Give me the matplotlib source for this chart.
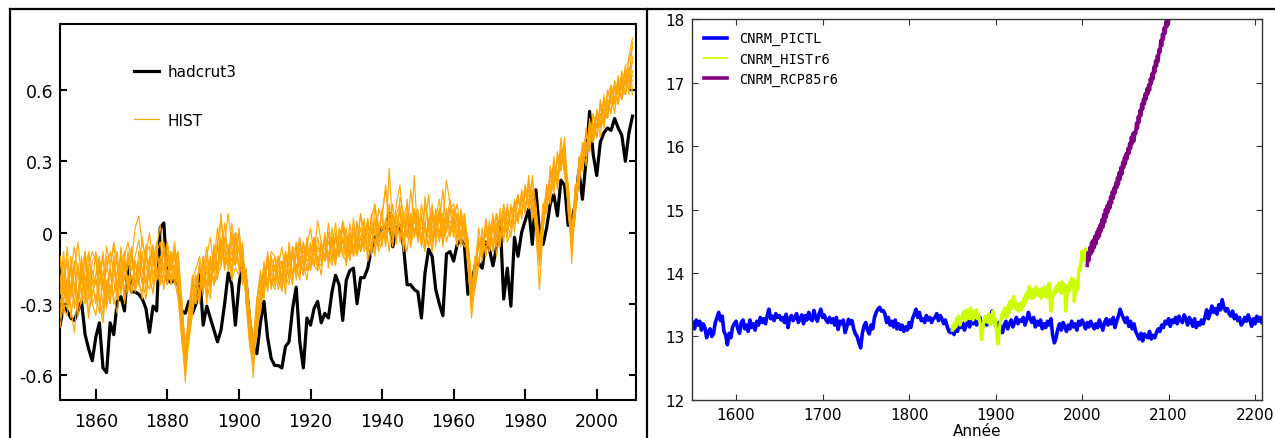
import matplotlib
matplotlib.use('Agg')
import matplotlib.pyplot as plt
from matplotlib.lines import Line2D
import numpy as np

# ---------------------------------------------------------------
# Left panel: observed hadcrut3 anomalies vs. HIST ensemble members
# ---------------------------------------------------------------
years_obs = np.arange(1850, 2011)

hadcrut3 = [
    -0.39, -0.31, -0.33, -0.36, -0.37, -0.33, -0.29, -0.43, -0.49, -0.54,
    -0.44, -0.38, -0.57, -0.59, -0.38, -0.43, -0.29, -0.27, -0.33, -0.14,
    -0.25, -0.25, -0.26, -0.28, -0.32, -0.42, -0.31, -0.33, 0.02, 0.04,
    -0.20, -0.21, -0.20, -0.22, -0.33, -0.34, -0.29, -0.34, -0.30, -0.17,
    -0.39, -0.31, -0.36, -0.41, -0.46, -0.41, -0.30, -0.17, -0.22, -0.39,
    -0.22, -0.13, -0.21, -0.37, -0.48, -0.51, -0.38, -0.29, -0.44, -0.53,
    -0.56, -0.56, -0.57, -0.48, -0.46, -0.32, -0.23, -0.46, -0.57, -0.36,
    -0.39, -0.32, -0.29, -0.38, -0.34, -0.36, -0.25, -0.18, -0.22, -0.37,
    -0.20, -0.16, -0.15, -0.30, -0.19, -0.19, -0.15, -0.07, -0.02, -0.01,
    0.02, 0.02, 0.08, -0.06, 0.02, 0.03, -0.06, -0.22, -0.22, -0.24,
    -0.25, -0.36, -0.17, -0.07, -0.10, -0.24, -0.30, -0.35, -0.09, -0.08,
    -0.12, -0.05, -0.03, -0.05, -0.26, -0.22, -0.14, -0.13, -0.15, -0.04,
    -0.07, -0.14, -0.06, 0.05, -0.28, -0.15, -0.31, -0.02, -0.10, 0.00,
    0.05, 0.10, -0.05, 0.18, 0.00, -0.05, 0.02, 0.12, 0.16, 0.07,
    0.22, 0.20, 0.03, 0.05, 0.12, 0.26, 0.14, 0.30, 0.51, 0.33,
    0.24, 0.38, 0.42, 0.44, 0.43, 0.48, 0.44, 0.41, 0.30, 0.42,
    0.49]

hist_r1 = [
    -0.10, -0.18, -0.28, -0.14, -0.22, -0.30, -0.16, -0.08, -0.20, -0.26,
    -0.18, -0.12, -0.24, -0.30, -0.14, -0.06, -0.15, -0.22, -0.10, -0.04,
    -0.12, 0.02, 0.07, -0.05, -0.10, 0.00, -0.14, -0.06, 0.03, -0.10,
    -0.04, -0.16, -0.08, -0.22, -0.28, -0.55, -0.34, -0.20, -0.26, -0.14,
    -0.22, -0.10, -0.02, -0.16, -0.04, 0.06, -0.08, -0.14, 0.00, -0.12,
    0.02, -0.14, -0.22, -0.32, -0.45, -0.28, -0.18, -0.24, -0.10, -0.16,
    -0.22, -0.10, -0.14, -0.26, -0.04, -0.18, -0.10, -0.02, -0.12, -0.20,
    -0.08, -0.02, -0.16, -0.06, -0.12, 0.04, -0.08, -0.14, -0.02, 0.04,
    -0.06, -0.12, 0.02, -0.04, 0.08, 0.00, -0.08, 0.06, 0.12, 0.00,
    0.08, 0.18, 0.06, -0.04, 0.12, 0.20, 0.02, 0.08, -0.06, 0.10,
    0.04, -0.06, 0.12, 0.02, -0.08, 0.06, 0.14, 0.00, 0.10, -0.02,
    0.06, 0.12, -0.02, 0.08, -0.06, -0.28, -0.14, 0.02, -0.08, 0.06,
    -0.04, 0.08, -0.10, 0.02, 0.12, 0.04, -0.02, 0.10, 0.16, 0.06,
    0.20, 0.10, 0.22, 0.12, -0.12, 0.00, 0.20, 0.12, 0.30, 0.18,
    0.36, 0.24, 0.12, 0.00, 0.20, 0.18, 0.36, 0.28, 0.46, 0.38,
    0.50, 0.40, 0.56, 0.48, 0.60, 0.50, 0.64, 0.56, 0.68, 0.58,
    0.74]

hist_r2 = [
    -0.36, -0.28, -0.20, -0.32, -0.42, -0.24, -0.30, -0.18, -0.34, -0.26,
    -0.20, -0.30, -0.38, -0.22, -0.16, -0.28, -0.34, -0.14, -0.24, -0.18,
    -0.26, -0.18, -0.12, -0.20, -0.28, -0.14, -0.08, -0.20, -0.16, -0.06,
    -0.18, -0.08, -0.22, -0.14, -0.44, -0.60, -0.46, -0.34, -0.24, -0.30,
    -0.10, -0.22, -0.28, -0.06, -0.18, -0.14, 0.04, -0.10, -0.20, -0.02,
    -0.16, -0.04, -0.28, -0.46, -0.54, -0.40, -0.34, -0.20, -0.10, -0.24,
    -0.14, -0.24, -0.18, -0.08, -0.16, -0.22, -0.04, -0.10, -0.18, -0.06,
    0.02, -0.10, 0.05, -0.04, -0.12, 0.00, -0.06, 0.04, -0.10, -0.02,
    -0.14, -0.04, 0.00, -0.10, -0.02, 0.04, -0.12, -0.06, 0.06, -0.08,
    -0.04, 0.04, -0.08, 0.08, 0.00, 0.10, -0.02, -0.08, 0.06, 0.00,
    0.08, -0.04, 0.02, -0.06, 0.10, 0.00, 0.06, -0.04, 0.04, 0.14,
    0.02, -0.06, 0.08, -0.02, -0.04, -0.20, -0.24, -0.12, -0.02, -0.10,
    0.04, -0.08, 0.02, -0.06, 0.08, -0.04, 0.00, 0.12, 0.04, 0.16,
    0.08, 0.22, 0.10, 0.04, -0.06, 0.12, 0.08, 0.26, 0.16, 0.32,
    0.26, 0.38, 0.20, -0.02, 0.06, 0.32, 0.26, 0.42, 0.34, 0.46,
    0.40, 0.54, 0.46, 0.56, 0.50, 0.62, 0.54, 0.66, 0.58, 0.70,
    0.60]

hist_r3 = [
    -0.22, -0.08, -0.26, -0.16, -0.06, -0.18, -0.24, -0.30, -0.14, -0.08,
    -0.12, -0.22, -0.08, -0.26, -0.16, -0.20, -0.28, -0.06, -0.20, -0.14,
    -0.06, -0.22, -0.16, -0.02, -0.14, -0.20, -0.10, -0.16, -0.22, -0.04,
    -0.20, -0.10, -0.16, -0.24, -0.40, -0.50, -0.32, -0.18, -0.30, -0.12,
    -0.16, -0.06, -0.20, -0.12, 0.02, -0.10, -0.04, 0.08, -0.06, -0.14,
    0.00, -0.12, -0.18, -0.38, -0.52, -0.30, -0.16, -0.26, -0.08, -0.20,
    -0.24, -0.14, -0.06, -0.18, -0.22, -0.06, -0.18, -0.04, -0.14, -0.02,
    -0.16, -0.06, -0.10, -0.18, -0.02, -0.12, 0.02, -0.10, -0.04, -0.08,
    0.02, -0.10, -0.06, 0.04, -0.08, -0.04, 0.06, -0.04, -0.10, 0.04,
    0.06, -0.06, 0.12, 0.00, 0.08, -0.04, 0.06, 0.12, -0.06, 0.02,
    -0.02, 0.08, -0.06, 0.06, -0.04, 0.02, 0.10, -0.06, 0.08, 0.00,
    0.10, 0.04, -0.06, 0.06, -0.14, -0.30, -0.18, -0.04, -0.10, 0.00,
    -0.06, 0.02, 0.08, -0.02, 0.06, 0.10, 0.02, 0.04, 0.14, 0.08,
    0.16, 0.20, 0.06, 0.08, -0.10, 0.10, 0.18, 0.14, 0.24, 0.30,
    0.34, 0.28, 0.16, -0.06, 0.16, 0.28, 0.36, 0.40, 0.38, 0.50,
    0.44, 0.52, 0.50, 0.58, 0.62, 0.54, 0.64, 0.60, 0.70, 0.72,
    0.78]

hist_r4 = [
    -0.10, -0.26, -0.06, -0.28, -0.16, -0.04, -0.20, -0.24, -0.10, -0.22,
    -0.08, -0.16, -0.24, -0.06, -0.14, -0.04, -0.12, -0.22, -0.14, -0.20,
    -0.24, -0.12, -0.20, -0.28, -0.10, -0.18, -0.26, -0.10, -0.16, -0.22,
    -0.12, -0.20, -0.06, -0.14, -0.30, -0.48, -0.44, -0.30, -0.18, -0.28,
    -0.18, -0.26, -0.14, -0.22, -0.14, -0.02, -0.12, -0.06, -0.16, 0.00,
    -0.08, -0.16, -0.26, -0.44, -0.48, -0.38, -0.26, -0.16, -0.24, -0.10,
    -0.16, -0.20, -0.24, -0.12, -0.10, -0.18, -0.14, -0.20, -0.04, -0.12,
    -0.10, -0.14, -0.16, -0.04, -0.12, -0.08, -0.14, -0.02, -0.10, 0.02,
    -0.08, 0.00, -0.10, -0.06, 0.02, -0.08, -0.04, 0.04, 0.00, -0.06,
    0.00, -0.04, 0.08, 0.06, -0.02, 0.04, -0.08, 0.06, 0.02, 0.10,
    0.00, -0.02, -0.08, 0.04, 0.08, -0.02, 0.00, 0.08, -0.04, 0.02,
    0.00, 0.08, -0.02, -0.06, -0.02, -0.26, -0.12, -0.06, -0.02, -0.08,
    0.00, 0.04, -0.06, 0.06, 0.00, 0.02, 0.10, 0.04, 0.06, 0.16,
    0.18, 0.12, 0.18, 0.02, -0.08, 0.08, 0.10, 0.24, 0.28, 0.20,
    0.32, 0.36, 0.10, -0.08, 0.08, 0.22, 0.32, 0.30, 0.44, 0.38,
    0.46, 0.50, 0.44, 0.54, 0.58, 0.60, 0.54, 0.64, 0.66, 0.60,
    0.68]

hist_r5 = [
    -0.26, -0.12, -0.32, -0.22, -0.30, -0.16, -0.22, -0.10, -0.28, -0.20,
    -0.30, -0.14, -0.20, -0.32, -0.22, -0.26, -0.16, -0.24, -0.12, -0.22,
    -0.18, -0.24, -0.08, -0.16, -0.22, -0.12, -0.06, -0.18, -0.10, -0.14,
    -0.10, -0.22, -0.14, -0.18, -0.38, -0.63, -0.40, -0.30, -0.20, -0.16,
    -0.24, -0.16, -0.22, -0.08, -0.14, -0.06, -0.14, -0.12, 0.04, -0.08,
    -0.14, -0.18, -0.20, -0.40, -0.61, -0.34, -0.22, -0.18, -0.20, -0.12,
    -0.20, -0.12, -0.18, -0.20, -0.12, -0.08, -0.06, -0.14, -0.16, -0.06,
    -0.12, -0.14, -0.06, -0.10, -0.04, -0.12, -0.02, -0.08, -0.10, -0.02,
    -0.10, -0.02, -0.08, -0.02, -0.08, 0.02, 0.00, -0.08, 0.02, 0.04,
    -0.06, 0.06, 0.00, -0.06, 0.08, -0.02, 0.06, -0.02, 0.08, -0.02,
    0.04, 0.06, -0.06, 0.02, -0.08, 0.08, -0.02, 0.06, 0.00, 0.10,
    -0.02, 0.04, 0.06, -0.02, -0.10, -0.36, -0.22, -0.14, -0.04, -0.06,
    -0.08, -0.02, 0.04, -0.02, 0.08, 0.00, 0.08, 0.12, 0.06, 0.12,
    0.10, 0.18, 0.14, 0.00, -0.24, 0.02, 0.12, 0.16, 0.26, 0.24,
    0.30, 0.28, 0.20, -0.13, 0.14, 0.20, 0.32, 0.36, 0.36, 0.44,
    0.48, 0.44, 0.52, 0.48, 0.56, 0.54, 0.62, 0.56, 0.62, 0.66,
    0.64]

hist_r6 = [
    -0.34, -0.20, -0.12, -0.36, -0.24, -0.30, -0.12, -0.28, -0.20, -0.30,
    -0.26, -0.34, -0.16, -0.22, -0.30, -0.10, -0.24, -0.16, -0.28, -0.10,
    -0.24, -0.12, -0.22, -0.10, -0.20, -0.24, -0.12, -0.04, -0.22, -0.18,
    -0.22, -0.10, -0.18, -0.08, -0.34, -0.45, -0.42, -0.22, -0.18, -0.26,
    -0.14, -0.22, -0.12, -0.22, -0.06, -0.14, -0.04, -0.16, -0.08, -0.14,
    -0.06, -0.22, -0.16, -0.36, -0.50, -0.44, -0.24, -0.14, -0.22, -0.18,
    -0.10, -0.20, -0.12, -0.16, -0.18, -0.10, -0.16, -0.06, -0.14, -0.16,
    -0.14, -0.04, -0.12, -0.12, -0.02, -0.10, -0.04, -0.12, 0.00, -0.10,
    -0.04, -0.08, 0.00, -0.08, -0.02, -0.06, 0.02, 0.02, -0.06, 0.02,
    0.02, 0.00, 0.06, -0.02, 0.04, 0.08, -0.04, 0.06, -0.02, 0.08,
    -0.04, 0.06, 0.00, -0.06, 0.06, -0.02, 0.08, -0.02, 0.08, 0.04,
    0.06, -0.02, 0.04, 0.04, -0.08, -0.24, -0.10, -0.12, -0.04, 0.00,
    0.02, -0.06, 0.04, 0.00, -0.02, 0.06, 0.02, 0.10, 0.14, 0.08,
    0.16, 0.20, 0.10, 0.08, -0.04, 0.02, 0.16, 0.22, 0.20, 0.30,
    0.28, 0.34, 0.12, 0.02, 0.10, 0.28, 0.36, 0.36, 0.42, 0.42,
    0.50, 0.48, 0.54, 0.52, 0.58, 0.62, 0.58, 0.64, 0.62, 0.68,
    0.72]

hist_r7 = [
    -0.40, -0.28, -0.20, -0.24, -0.14, -0.32, -0.18, -0.24, -0.36, -0.16,
    -0.22, -0.14, -0.32, -0.10, -0.26, -0.18, -0.08, -0.26, -0.14, -0.24,
    -0.10, -0.22, -0.14, -0.22, -0.08, -0.06, -0.22, -0.10, -0.12, -0.24,
    -0.08, -0.16, -0.10, -0.26, -0.42, -0.56, -0.34, -0.26, -0.22, -0.14,
    -0.26, -0.14, -0.20, -0.06, -0.16, -0.04, -0.16, -0.06, -0.16, -0.02,
    -0.14, -0.08, -0.30, -0.40, -0.46, -0.32, -0.32, -0.20, -0.14, -0.22,
    -0.14, -0.10, -0.20, -0.12, -0.08, -0.18, -0.08, -0.14, -0.08, -0.10,
    -0.06, -0.12, -0.14, -0.04, -0.10, -0.04, -0.02, -0.08, -0.08, -0.04,
    -0.08, -0.03, -0.09, 0.00, -0.07, -0.01, -0.07, 0.00, 0.04, -0.06,
    0.03, -0.02, 0.06, 0.04, -0.01, 0.05, 0.04, -0.02, 0.04, 0.00,
    0.04, -0.01, 0.03, -0.02, 0.02, 0.06, -0.04, 0.05, 0.06, 0.02,
    0.04, 0.06, -0.02, 0.02, -0.12, -0.30, -0.14, -0.06, -0.06, -0.04,
    -0.05, 0.02, -0.04, 0.07, 0.01, 0.05, 0.04, 0.07, 0.08, 0.14,
    0.12, 0.14, 0.16, 0.10, -0.12, 0.08, 0.12, 0.20, 0.20, 0.26,
    0.30, 0.32, 0.14, 0.00, 0.12, 0.26, 0.28, 0.38, 0.36, 0.44,
    0.40, 0.50, 0.48, 0.52, 0.52, 0.57, 0.56, 0.62, 0.58, 0.64,
    0.58]

hist_r8 = [
    -0.12, -0.22, -0.30, -0.10, -0.24, -0.13, -0.27, -0.16, -0.08, -0.22,
    -0.18, -0.10, -0.22, -0.16, -0.08, -0.16, -0.22, -0.10, -0.20, -0.08,
    -0.16, -0.10, -0.03, -0.16, -0.22, -0.10, -0.18, -0.08, -0.04, -0.16,
    -0.14, -0.14, -0.04, -0.20, -0.28, -0.52, -0.44, -0.34, -0.20, -0.22,
    -0.12, -0.27, -0.10, -0.17, -0.04, -0.12, -0.02, -0.08, -0.12, -0.04,
    -0.08, -0.10, -0.22, -0.42, -0.52, -0.38, -0.26, -0.22, -0.13, -0.14,
    -0.14, -0.16, -0.22, -0.14, -0.14, -0.08, -0.14, -0.12, -0.10, -0.08,
    -0.12, -0.06, -0.08, -0.08, -0.07, -0.04, -0.10, 0.00, -0.06, -0.04,
    -0.02, -0.08, -0.02, -0.03, -0.03, -0.05, -0.02, 0.02, -0.04, 0.00,
    -0.03, 0.05, 0.00, 0.03, 0.02, 0.03, -0.01, 0.05, -0.02, 0.05,
    0.00, 0.02, 0.00, 0.03, -0.03, 0.05, 0.00, 0.02, 0.07, 0.04,
    0.05, 0.00, 0.05, -0.04, -0.06, -0.26, -0.16, -0.04, -0.06, 0.00,
    -0.04, 0.02, 0.00, 0.04, 0.02, 0.08, 0.04, 0.10, 0.06, 0.14,
    0.12, 0.16, 0.14, 0.08, -0.08, 0.04, 0.16, 0.18, 0.26, 0.24,
    0.32, 0.30, 0.18, -0.04, 0.14, 0.24, 0.34, 0.34, 0.42, 0.42,
    0.46, 0.46, 0.52, 0.50, 0.57, 0.56, 0.60, 0.60, 0.64, 0.64,
    0.66]

hist_r9 = [
    -0.28, -0.35, -0.20, -0.15, -0.32, -0.25, -0.10, -0.28, -0.15, -0.30,
    -0.35, -0.22, -0.10, -0.28, -0.15, -0.30, -0.25, -0.08, -0.30, -0.20,
    -0.25, -0.12, -0.22, -0.25, -0.05, -0.20, -0.25, -0.15, -0.20, -0.08,
    -0.22, -0.08, -0.20, -0.28, -0.45, -0.58, -0.34, -0.22, -0.30, -0.25,
    -0.10, -0.30, -0.10, -0.22, -0.18, 0.08, -0.15, -0.05, -0.20, -0.15,
    -0.18, -0.05, -0.30, -0.48, -0.56, -0.28, -0.20, -0.28, -0.10, -0.22,
    -0.22, -0.10, -0.25, -0.08, -0.20, -0.06, -0.20, -0.10, -0.18, -0.04,
    -0.16, -0.02, -0.12, -0.14, 0.00, -0.15, -0.02, -0.12, 0.02, -0.10,
    -0.12, 0.04, -0.10, 0.05, -0.08, 0.06, -0.10, 0.08, -0.08, 0.10,
    0.06, 0.20, 0.02, 0.12, -0.05, 0.15, 0.08, -0.02, 0.18, 0.05,
    0.10, -0.05, 0.15, 0.04, 0.12, -0.06, 0.10, 0.06, 0.22, 0.12,
    0.08, -0.04, 0.10, 0.02, -0.15, -0.32, -0.10, -0.14, 0.02, -0.10,
    0.05, -0.08, 0.08, -0.04, 0.10, -0.02, 0.12, 0.00, 0.16, 0.06,
    0.20, 0.10, 0.24, 0.00, -0.14, 0.12, 0.08, 0.28, 0.18, 0.34,
    0.26, 0.40, 0.08, -0.04, 0.20, 0.20, 0.38, 0.32, 0.48, 0.38,
    0.52, 0.44, 0.58, 0.48, 0.62, 0.56, 0.66, 0.56, 0.70, 0.64,
    0.80]

hist_r10 = [
    -0.18, -0.32, -0.35, -0.22, -0.12, -0.35, -0.28, -0.08, -0.25, -0.12,
    -0.10, -0.28, -0.35, -0.20, -0.30, -0.10, -0.28, -0.15, -0.08, -0.25,
    -0.08, -0.25, -0.18, -0.08, -0.25, -0.15, -0.05, -0.20, -0.12, -0.18,
    -0.05, -0.22, -0.15, -0.08, -0.28, -0.50, -0.45, -0.20, -0.15, -0.10,
    -0.20, -0.10, -0.25, -0.05, -0.20, -0.04, -0.08, -0.12, -0.06, 0.00,
    -0.02, -0.20, -0.15, -0.35, -0.48, -0.40, -0.32, -0.12, -0.25, -0.08,
    -0.10, -0.22, -0.12, -0.22, -0.06, -0.20, -0.05, -0.18, -0.04, -0.16,
    -0.04, -0.14, -0.02, -0.12, -0.10, 0.00, -0.12, -0.02, -0.10, 0.05,
    -0.02, -0.10, 0.06, -0.08, 0.08, -0.06, 0.05, -0.10, 0.12, -0.04,
    0.10, -0.04, 0.27, 0.00, 0.08, 0.12, -0.06, 0.14, -0.02, 0.24,
    -0.04, 0.12, 0.02, 0.16, -0.02, 0.10, 0.04, 0.18, 0.00, 0.10,
    0.12, 0.06, -0.04, 0.08, -0.04, -0.20, -0.22, -0.02, -0.12, 0.04,
    -0.08, 0.06, -0.04, 0.10, -0.04, 0.12, 0.02, 0.14, 0.04, 0.18,
    0.08, 0.24, 0.06, 0.10, -0.02, 0.02, 0.20, 0.14, 0.32, 0.20,
    0.40, 0.26, 0.20, 0.04, 0.08, 0.30, 0.26, 0.44, 0.34, 0.50,
    0.40, 0.56, 0.46, 0.60, 0.54, 0.64, 0.58, 0.68, 0.62, 0.74,
    0.82]

hist_members = [hist_r1, hist_r2, hist_r3, hist_r4, hist_r5,
                hist_r6, hist_r7, hist_r8, hist_r9, hist_r10]

left_xticks = [1860, 1880, 1900, 1920, 1940, 1960, 1980, 2000]
left_yticks = [-0.6, -0.3, 0, 0.3, 0.6]
left_yticklabels = ['-0.6', '-0.3', '0', '0.3', '0.6']

# ---------------------------------------------------------------
# Right panel: CNRM global mean temperature (degC)
# ---------------------------------------------------------------
years_pictl = np.arange(1550, 2209, 2)
cnrm_pictl = [
    13.22, 13.12, 13.26, 13.18, 13.24, 13.10, 13.20, 13.14, 12.98, 13.08,
    13.12, 13.00, 13.05, 13.22, 13.30, 13.38, 13.25, 13.32, 13.08, 13.02,
    12.87, 13.05, 12.98, 13.15, 13.20, 13.24, 13.12, 13.05, 13.22, 13.26,
    13.12, 13.18, 13.08, 13.26, 13.14, 13.20, 13.10, 13.24, 13.18, 13.30,
    13.22, 13.28, 13.20, 13.33, 13.43, 13.28, 13.32, 13.25, 13.36, 13.30,
    13.33, 13.26, 13.30, 13.22, 13.35, 13.14, 13.28, 13.33, 13.25, 13.30,
    13.36, 13.22, 13.28, 13.34, 13.20, 13.33, 13.26, 13.38, 13.28, 13.25,
    13.41, 13.30, 13.24, 13.36, 13.43, 13.30, 13.34, 13.26, 13.22, 13.30,
    13.22, 13.28, 13.18, 13.30, 13.11, 13.24, 13.20, 13.26, 13.06, 13.15,
    13.27, 13.20, 13.25, 13.12, 13.04, 13.00, 12.90, 12.82, 13.05, 13.17,
    13.22, 13.10, 13.04, 13.18, 13.12, 13.30, 13.38, 13.43, 13.46, 13.40,
    13.41, 13.36, 13.22, 13.30, 13.18, 13.24, 13.15, 13.26, 13.12, 13.20,
    13.11, 13.18, 13.08, 13.15, 13.10, 13.22, 13.14, 13.28, 13.35, 13.43,
    13.30, 13.38, 13.25, 13.28, 13.22, 13.33, 13.26, 13.30, 13.22, 13.28,
    13.30, 13.36, 13.25, 13.33, 13.28, 13.20, 13.26, 13.16, 13.08, 13.06,
    13.12, 13.03, 13.15, 13.08, 13.20, 13.14, 13.22, 13.10, 13.18, 13.24,
    13.15, 13.27, 13.20, 13.28, 13.18, 13.22, 13.30, 13.14, 13.20, 13.25,
    13.18, 13.28, 13.22, 13.40, 13.26, 13.18, 13.12, 13.22, 13.15, 13.06,
    13.18, 13.24, 13.12, 13.20, 13.26, 13.15, 13.22, 13.30, 13.20, 13.26,
    13.24, 13.30, 13.18, 13.26, 13.38, 13.28, 13.22, 13.30, 13.15, 13.24,
    13.18, 13.26, 13.12, 13.20, 13.14, 13.24, 13.18, 13.28, 13.02, 12.90,
    12.98, 13.12, 13.20, 13.10, 13.22, 13.16, 13.08, 13.18, 13.12, 13.24,
    13.15, 13.20, 13.10, 13.24, 13.18, 13.26, 13.20, 13.12, 13.22, 13.15,
    13.24, 13.18, 13.12, 13.20, 13.14, 13.26, 13.18, 13.10, 13.22, 13.28,
    13.18, 13.26, 13.20, 13.30, 13.14, 13.24, 13.32, 13.43, 13.35, 13.28,
    13.22, 13.30, 13.16, 13.24, 13.12, 13.20, 13.08, 13.02, 12.96, 13.05,
    12.93, 13.04, 13.00, 12.98, 13.08, 12.96, 13.02, 12.98, 13.06, 13.12,
    13.08, 13.18, 13.14, 13.24, 13.20, 13.28, 13.16, 13.26, 13.22, 13.30,
    13.20, 13.32, 13.26, 13.22, 13.34, 13.28, 13.18, 13.30, 13.24, 13.16,
    13.28, 13.14, 13.22, 13.18, 13.26, 13.20, 13.30, 13.42, 13.28, 13.36,
    13.48, 13.38, 13.44, 13.35, 13.50, 13.42, 13.58, 13.46, 13.40, 13.44,
    13.36, 13.32, 13.40, 13.28, 13.34, 13.25, 13.30, 13.18, 13.22, 13.30,
    13.24, 13.34, 13.26, 13.16, 13.28, 13.20, 13.32, 13.24, 13.30, 13.22]

years_histr6 = np.arange(1850, 2006)
cnrm_histr6 = [
    13.10, 13.18, 13.12, 13.22, 13.15, 13.28, 13.20, 13.32, 13.25, 13.18,
    13.30, 13.24, 13.36, 13.28, 13.40, 13.33, 13.26, 13.42, 13.30, 13.35,
    13.28, 13.45, 13.32, 13.38, 13.26, 13.40, 13.30, 13.36, 13.42, 13.28,
    13.35, 13.30, 13.22, 13.05, 12.95, 13.10, 13.20, 13.26, 13.32, 13.24,
    13.30, 13.22, 13.36, 13.28, 13.18, 13.34, 13.26, 13.40, 13.20, 13.30,
    13.22, 13.10, 12.95, 12.88, 13.05, 13.18, 13.26, 13.34, 13.28, 13.40,
    13.32, 13.45, 13.36, 13.30, 13.42, 13.50, 13.38, 13.56, 13.44, 13.50,
    13.60, 13.63, 13.48, 13.55, 13.42, 13.50, 13.45, 13.40, 13.52, 13.46,
    13.42, 13.55, 13.48, 13.60, 13.52, 13.66, 13.58, 13.70, 13.62, 13.79,
    13.65, 13.72, 13.60, 13.68, 13.74, 13.62, 13.70, 13.78, 13.66, 13.72,
    13.64, 13.74, 13.68, 13.60, 13.76, 13.70, 13.64, 13.78, 13.68, 13.62,
    13.72, 13.80, 13.84, 13.58, 13.40, 13.50, 13.62, 13.70, 13.66, 13.76,
    13.70, 13.80, 13.74, 13.84, 13.72, 13.78, 13.68, 13.86, 13.76, 13.70,
    13.82, 13.40, 13.55, 13.70, 13.80, 13.72, 13.86, 13.80, 13.92, 13.84,
    13.90, 13.55, 13.66, 13.78, 13.86, 13.74, 14.00, 14.10, 14.05, 14.22,
    14.34, 14.25, 14.30, 14.20, 14.38, 14.30]

years_rcp85r6 = np.arange(2006, 2101)
cnrm_rcp85r6 = [
    14.12, 14.32, 14.20, 14.40,
    14.30, 14.48, 14.34, 14.52, 14.40, 14.58, 14.46, 14.64, 14.54, 14.70,
    14.58, 14.76, 14.66, 14.84, 14.72, 14.92, 14.80, 15.00, 14.88, 15.06,
    14.96, 15.12, 15.02, 15.20, 15.10, 15.28, 15.18, 15.34, 15.26, 15.42,
    15.34, 15.50, 15.40, 15.58, 15.48, 15.66, 15.56, 15.74, 15.66, 15.82,
    15.72, 15.88, 15.80, 15.96, 15.88, 16.04, 15.96, 16.14, 16.04, 16.20,
    16.08, 16.22, 16.20, 16.36, 16.28, 16.46, 16.38, 16.56, 16.48, 16.66,
    16.58, 16.74, 16.66, 16.82, 16.74, 16.90, 16.82, 16.96, 16.88, 17.06,
    16.98, 17.14, 17.06, 17.24, 17.16, 17.34, 17.26, 17.42, 17.34, 17.52,
    17.48, 17.66, 17.58, 17.76, 17.68, 17.86, 17.78, 17.96, 17.88, 18.02,
    17.98]

right_xticks = [1600, 1700, 1800, 1900, 2000, 2100, 2200]
right_yticks = [12, 13, 14, 15, 16, 17, 18]

# ---------------------------------------------------------------
# Figure
# ---------------------------------------------------------------
fig = plt.figure(figsize=(12.75, 4.39), dpi=100)

ax1 = fig.add_axes([0.0471, 0.0866, 0.4518, 0.8565])
ax1.plot(years_obs, hadcrut3, color='black', lw=2.3, label='hadcrut3', zorder=2)
for i, member in enumerate(hist_members):
    ax1.plot(years_obs, member, color='orange', lw=0.85, alpha=0.95,
             label='HIST' if i == 0 else None, zorder=3)
ax1.set_xlim(1850, 2011)
ax1.set_ylim(-0.705, 0.878)
ax1.set_xticks(left_xticks)
ax1.set_yticks(left_yticks)
ax1.set_yticklabels(left_yticklabels)
ax1.tick_params(axis='both', direction='in', labelsize=12.5, width=1.5)
ax1.tick_params(axis='y', length=5, right=True, pad=5)
ax1.tick_params(axis='x', length=8, pad=9)
for s in ax1.spines.values():
    s.set_linewidth(1.5)
leg1 = ax1.legend(loc='upper left', bbox_to_anchor=(0.105, 0.93), frameon=False,
                  fontsize=11, labelspacing=2.2, handlelength=1.6, handletextpad=0.6)

ax2 = fig.add_axes([0.5427, 0.0866, 0.4471, 0.8678])
ax2.plot(years_pictl, cnrm_pictl, color='#0000ff', lw=2.6, label='CNRM_PICTL')
ax2.plot(years_histr6, cnrm_histr6, color='#ccff00', lw=2.4, label='CNRM_HISTr6')
ax2.plot(years_rcp85r6, cnrm_rcp85r6, color='#800080', lw=2.6, label='CNRM_RCP85r6')
ax2.set_xlim(1549, 2208)
ax2.set_ylim(12, 18)
ax2.set_xticks(right_xticks)
ax2.set_yticks(right_yticks)
ax2.tick_params(axis='both', direction='in', labelsize=11, length=4,
                top=True, right=True, pad=5, color='#333333')
for s in ax2.spines.values():
    s.set_linewidth(1.0)
    s.set_color('#333333')
ax2.set_xlabel('Année', fontsize=11, labelpad=1)
leg2 = ax2.legend(loc='upper left', frameon=False, prop={'family': 'DejaVu Sans Mono', 'size': 9.8},
                  handlelength=1.7, handletextpad=0.9, labelspacing=0.45)
leg2.get_lines()[1].set_linewidth(1.4)

# composite frame lines
fig.add_artist(Line2D([10 / 1275, 1.0], [1 - 10 / 439, 1 - 10 / 439],
                      transform=fig.transFigure, color='black', lw=1.6))
fig.add_artist(Line2D([10 / 1275, 10 / 1275], [0.0, 1 - 10 / 439],
                      transform=fig.transFigure, color='black', lw=1.6))
fig.add_artist(Line2D([647 / 1275, 647 / 1275], [0.0, 1 - 10 / 439],
                      transform=fig.transFigure, color='black', lw=1.6))

fig.savefig('out.png', dpi=100)
